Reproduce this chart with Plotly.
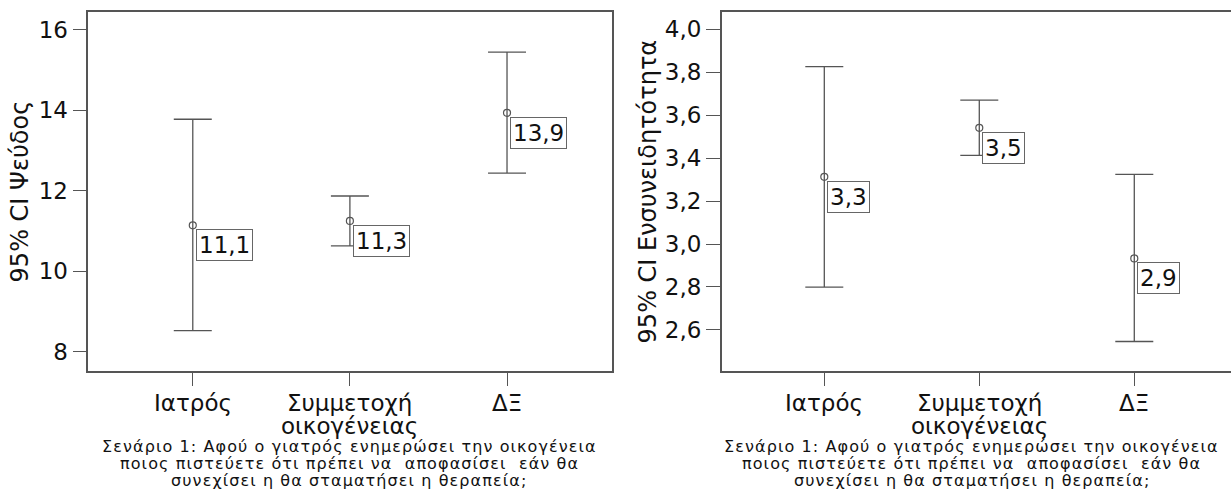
import plotly.graph_objects as go

categories = ["Ιατρός", "Συμμετοχή οικογένειας", "ΔΞ"]
tick_lines = [["Ιατρός"], ["Συμμετοχή", "οικογένειας"], ["ΔΞ"]]

# Left panel: 95% CI Ψεύδος
lie_mean = [11.14, 11.25, 13.94]
lie_upper = [13.78, 11.87, 15.45]
lie_lower = [8.52, 10.63, 12.44]
lie_labels = ["11,1", "11,3", "13,9"]

# Right panel: 95% CI Ενσυνειδητότητα
con_mean = [3.313, 3.541, 2.933]
con_upper = [3.826, 3.670, 3.324]
con_lower = [2.799, 3.413, 2.546]
con_labels = ["3,3", "3,5", "2,9"]

left_ticks = [8, 10, 12, 14, 16]
right_ticks = [2.6, 2.8, 3.0, 3.2, 3.4, 3.6, 3.8, 4.0]
right_tick_text = ["2,6", "2,8", "3,0", "3,2", "3,4", "3,6", "3,8", "4,0"]

caption_lines = ["Σενάριο 1: Αφού ο γιατρός ενημερώσει την οικογένεια",
                 "ποιος πιστεύετε ότι πρέπει να\u00a0 αποφασίσει\u00a0 εάν θα",
                 "συνεχίσει η θα σταματήσει η θεραπεία;"]

FONT = "DejaVu Sans"
LINE = "#555555"
W, H = 1231, 498

xpos = [0, 1, 2]

fig = go.Figure()

def add_panel(xa, ya, mean, upper, lower):
    fig.add_trace(go.Scatter(
        x=xpos, y=mean, mode="markers", xaxis=xa, yaxis=ya,
        marker=dict(symbol="circle-open", size=7, color=LINE, line=dict(width=1.2, color=LINE)),
        error_y=dict(type="data", symmetric=False,
                     array=[u - m for u, m in zip(upper, mean)],
                     arrayminus=[m - l for m, l in zip(mean, lower)],
                     color=LINE, thickness=1.3, width=19),
        showlegend=False, hoverinfo="skip"))

add_panel("x", "y", lie_mean, lie_upper, lie_lower)
add_panel("x2", "y2", con_mean, con_upper, con_lower)

ytop = 1 - 12.3 / H
ybot = 1 - 370.5 / H

axis_common = dict(showline=True, linecolor=LINE, linewidth=1.5, ticks="outside",
                   ticklen=14, tickcolor=LINE, tickwidth=1.2, showgrid=False, zeroline=False,
                   tickfont=dict(family=FONT, size=23, color="#111"))

fig.update_layout(
    width=W, height=H, margin=dict(l=0, r=0, t=0, b=0),
    paper_bgcolor="white", plot_bgcolor="white",
    font=dict(family=FONT, color="#111"),
    xaxis=dict(domain=[88.3 / W, 611.5 / W], range=[-0.665, 2.665], tickvals=xpos,
               showticklabels=False, mirror=True, anchor="y", **axis_common),
    yaxis=dict(domain=[ybot, ytop], range=[7.53, 16.44], tickvals=left_ticks,
               mirror=True, anchor="x", **axis_common),
    xaxis2=dict(domain=[721.7 / W, 1.0], range=[-0.662, 2.624], tickvals=xpos,
                showticklabels=False, mirror=True, anchor="y2", **axis_common),
    yaxis2=dict(domain=[ybot, ytop], range=[2.411, 4.079], tickvals=right_ticks,
                ticktext=right_tick_text, anchor="x2", **axis_common),
)

annotations = []
for xa, ya, means, labels in [("x", "y", lie_mean, lie_labels), ("x2", "y2", con_mean, con_labels)]:
    for xv, m, lab in zip(xpos, means, labels):
        annotations.append(dict(x=xv, y=m, xref=xa, yref=ya, text=lab, showarrow=False,
                                xanchor="left", yanchor="top", xshift=3, yshift=-4,
                                bordercolor="#666", borderwidth=1, borderpad=2, bgcolor="white",
                                font=dict(family=FONT, size=23, color="#111")))

# category labels (two-line label with tight line spacing)
label_rows_y = [403, 426]
for xa in ["x", "x2"]:
    for xv, lines in zip(xpos, tick_lines):
        for i, line in enumerate(lines):
            annotations.append(dict(x=xv, y=1 - label_rows_y[i] / H, xref=xa, yref="paper",
                                    text=line, showarrow=False, xanchor="center", yanchor="middle",
                                    font=dict(family=FONT, size=23, color="#111")))

ymid = 1 - 191.4 / H
annotations.append(dict(x=20 / W, y=ymid, xref="paper", yref="paper", text="95% CI Ψεύδος",
                        textangle=-90, showarrow=False, xanchor="center", yanchor="middle",
                        font=dict(family=FONT, size=24, color="#111")))
annotations.append(dict(x=648 / W, y=ymid, xref="paper", yref="paper", text="95% CI Ενσυνειδητότητα",
                        textangle=-90, showarrow=False, xanchor="center", yanchor="middle",
                        font=dict(family=FONT, size=24, color="#111")))

caption_rows_y = [446, 463, 480]
for cx in [349.3, 971.5]:
    for line, ry in zip(caption_lines, caption_rows_y):
        annotations.append(dict(x=cx / W, y=1 - ry / H, xref="paper", yref="paper",
                                text='<span style="letter-spacing:1.1px">' + line + '</span>',
                                showarrow=False, xanchor="center", yanchor="middle",
                                font=dict(family=FONT, size=16, color="#111")))
fig.update_layout(annotations=annotations)

fig.write_html("out.html")
